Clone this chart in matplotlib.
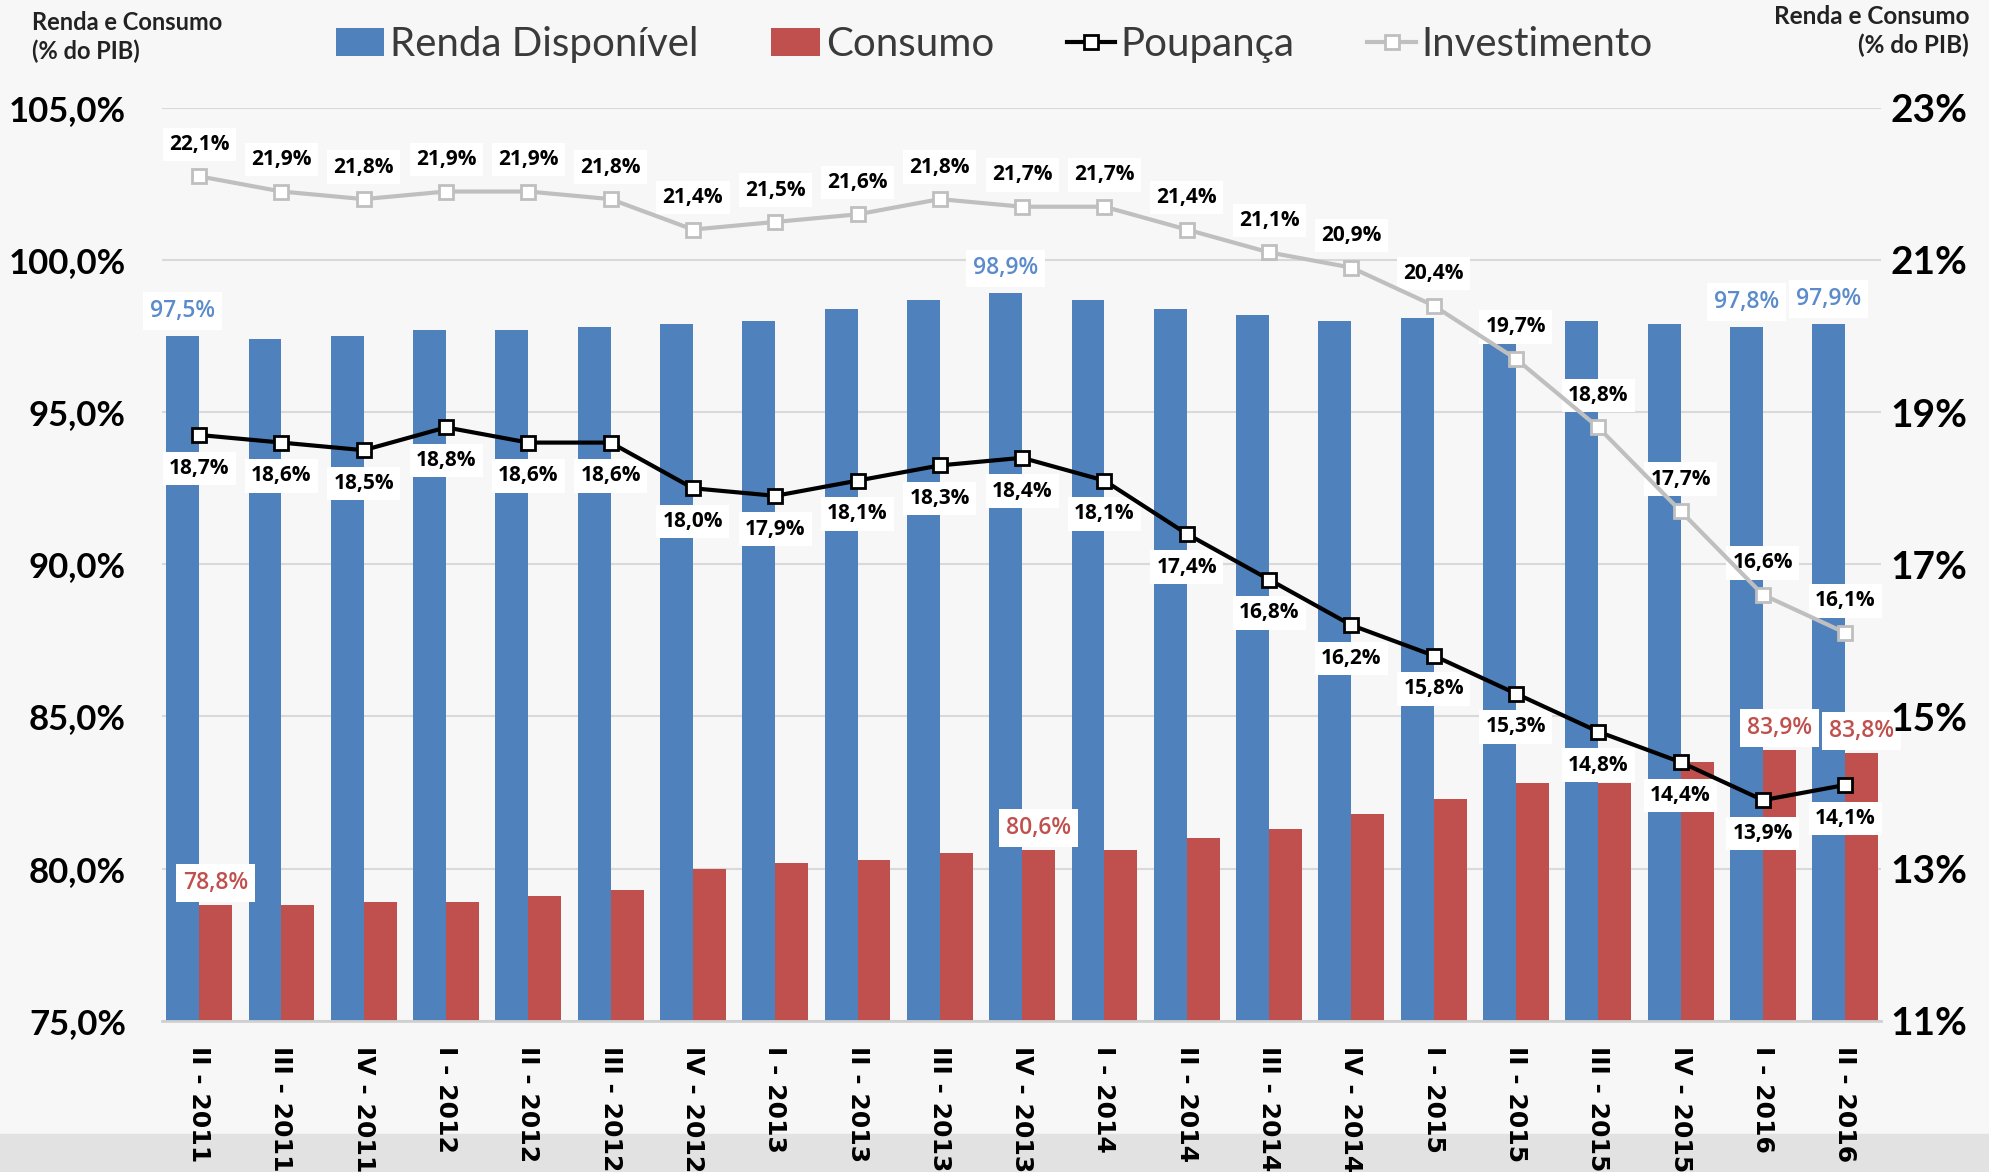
import numpy as np
import matplotlib
matplotlib.use("Agg")
import matplotlib.pyplot as plt
from matplotlib.patches import Rectangle

# data
cats = ["II - 2011", "III - 2011", "IV - 2011", "I - 2012", "II - 2012", "III - 2012",
        "IV - 2012", "I - 2013", "II - 2013", "III - 2013", "IV - 2013", "I - 2014",
        "II - 2014", "III - 2014", "IV - 2014", "I - 2015", "II - 2015", "III - 2015",
        "IV - 2015", "I - 2016", "II - 2016"]
renda = [97.5, 97.4, 97.5, 97.7, 97.7, 97.8, 97.9, 98.0, 98.4, 98.7, 98.9,
         98.7, 98.4, 98.2, 98.0, 98.1, 97.3, 98.0, 97.9, 97.8, 97.9]
consumo = [78.8, 78.8, 78.9, 78.9, 79.1, 79.3, 80.0, 80.2, 80.3, 80.5, 80.6,
           80.6, 81.0, 81.3, 81.8, 82.3, 82.8, 82.8, 83.5, 83.9, 83.8]
poupanca = [18.7, 18.6, 18.5, 18.8, 18.6, 18.6, 18.0, 17.9, 18.1, 18.3, 18.4,
            18.1, 17.4, 16.8, 16.2, 15.8, 15.3, 14.8, 14.4, 13.9, 14.1]
investimento = [22.1, 21.9, 21.8, 21.9, 21.9, 21.8, 21.4, 21.5, 21.6, 21.8, 21.7,
                21.7, 21.4, 21.1, 20.9, 20.4, 19.7, 18.8, 17.7, 16.6, 16.1]
bar_label_idx = [0, 10, 19, 20]

BLUE = "#4F81BD"
RED = "#C0504D"
GRAY = "#BFBFBF"
NARROW = ["Lato", "DejaVu Sans"]
LBL = ["Open Sans", "DejaVu Sans"]

def br(v, d=1):
    return f"{v:.{d}f}%".replace(".", ",")

fig = plt.figure(figsize=(19.89, 11.72), dpi=100, facecolor="#f7f7f7")
# gray strip at the bottom of the slide
fig.patches.append(Rectangle((0, 0), 1, 0.032, transform=fig.transFigure,
                             color="#e2e2e2", zorder=-5))
ax = fig.add_axes([0.0815, 0.129, 0.864, 0.779])
ax.set_facecolor("none")
ax2 = ax.twinx()

x = np.arange(len(cats))
w = 0.4
ax.bar(x - w / 2, renda, w, color=BLUE, zorder=2, label="Renda Disponível")
ax.bar(x + w / 2, consumo, w, color=RED, zorder=2, label="Consumo")

box = dict(boxstyle="square,pad=0.3", fc="white", ec="none")
for i in bar_label_idx:
    ax.annotate(br(renda[i]), (x[i] - w / 2, renda[i]), xytext=(0, 18),
                textcoords="offset points", ha="center", va="center",
                fontsize=16.5, fontweight="semibold", family=LBL, color="#5B8BCB",
                bbox=box, zorder=4)
    ax.annotate(br(consumo[i]), (x[i] + w / 2, consumo[i]), xytext=(0, 16),
                textcoords="offset points", ha="center", va="center",
                fontsize=16.5, fontweight="semibold", family=LBL, color=RED,
                bbox=box, zorder=4)

ax.set_ylim(75, 105)
ax.set_yticks(np.arange(75, 105.1, 5))
ax.set_yticklabels([br(v) for v in np.arange(75, 105.1, 5)],
                   family=NARROW, fontsize=25, fontweight="bold")
ax.set_xlim(-0.45, len(cats) - 0.57)
ax.set_xticks(x)
ax.set_xticklabels(cats, rotation=-90, va="top", ha="center",
                   fontsize=18, fontweight="bold", family="DejaVu Sans")
ax.tick_params(axis="both", length=0)
ax.tick_params(axis="x", pad=18)
ax.tick_params(axis="y", pad=26)
ax.grid(axis="y", color="#d9d9d9", lw=1.5, zorder=0)
ax.set_axisbelow(True)
for s in ["top", "left", "right"]:
    ax.spines[s].set_visible(False)
ax.spines["bottom"].set_color("#d0d0d0")
ax.spines["bottom"].set_linewidth(2)

ax2.plot(x, poupanca, color="black", lw=3, marker="s", ms=10, mfc="white",
         mec="black", mew=2, zorder=3, label="Poupança")
ax2.plot(x, investimento, color=GRAY, lw=3, marker="s", ms=10, mfc="white",
         mec=GRAY, mew=2, zorder=3, label="Investimento")
for i in x:
    ax2.annotate(br(poupanca[i]), (i, poupanca[i]), xytext=(0, -24),
                 textcoords="offset points", ha="center", va="center",
                 fontsize=15, fontweight="bold", family=LBL, color="black",
                 bbox=box, zorder=2)
    ax2.annotate(br(investimento[i]), (i, investimento[i]), xytext=(0, 23),
                 textcoords="offset points", ha="center", va="center",
                 fontsize=15, fontweight="bold", family=LBL, color="black",
                 bbox=box, zorder=2)
ax2.set_ylim(11, 23)
ax2.set_yticks(np.arange(11, 23.1, 2))
ax2.set_yticklabels([br(v, 0) for v in np.arange(11, 23.1, 2)],
                    family=NARROW, fontsize=28, fontweight="bold")
ax2.tick_params(axis="y", length=0, pad=7)
for s in ax2.spines.values():
    s.set_visible(False)

# axis titles
fig.text(0.016, 0.991, "Renda e Consumo\n(% do PIB)", ha="left", va="top",
         fontsize=17, fontweight="bold", family=NARROW, color="#222222",
         linespacing=1.3)
fig.text(0.990, 0.996, "Renda e Consumo\n(% do PIB)", ha="right", va="top",
         fontsize=17.5, fontweight="bold", family=NARROW, color="#222222",
         linespacing=1.3, multialignment="right")

h1, l1 = ax.get_legend_handles_labels()
h2, l2 = ax2.get_legend_handles_labels()
leg = fig.legend(h1 + h2, l1 + l2, loc="center", bbox_to_anchor=(0.5, 0.962),
                 ncol=4, frameon=False, prop={"family": NARROW, "size": 29},
                 handlelength=1.2, handletextpad=0.15, columnspacing=1.8)
for t in leg.get_texts():
    t.set_color("#3a3a3a")

fig.savefig("out.png", dpi=100, facecolor=fig.get_facecolor())
